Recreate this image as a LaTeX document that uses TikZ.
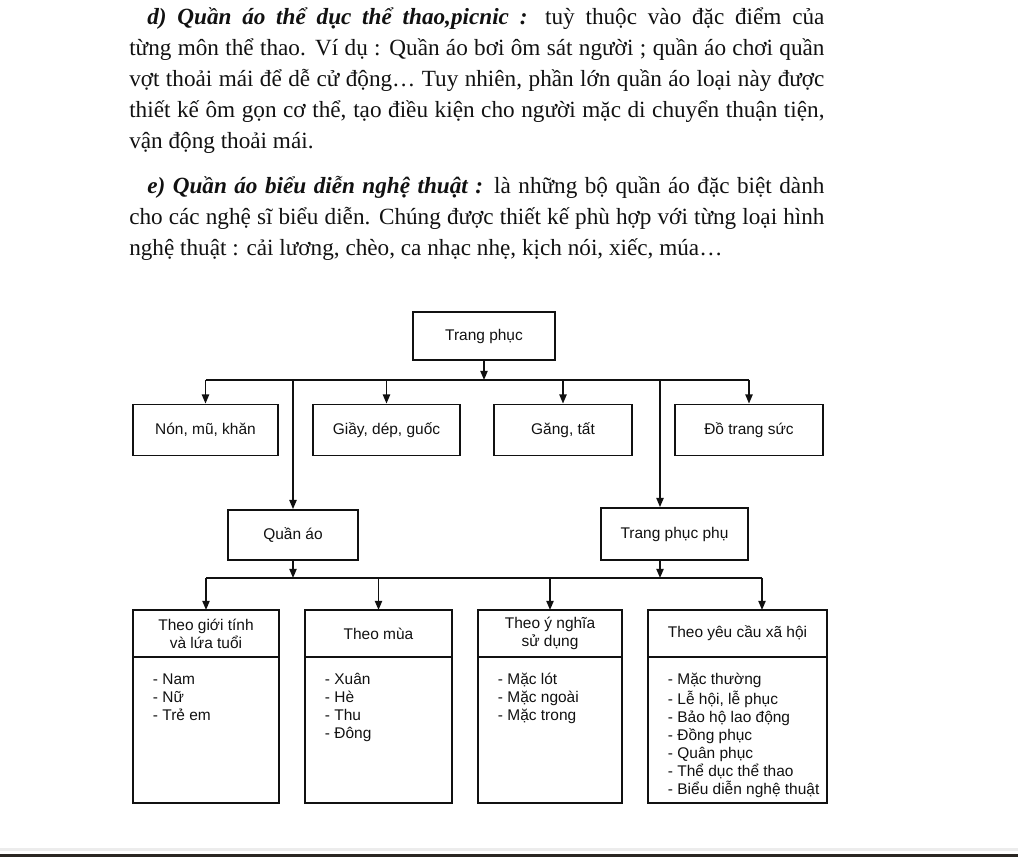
\documentclass[tikz,border=0pt]{standalone}
\usepackage{fontspec}
\setmainfont{Liberation Serif}
\newfontfamily\diagsans{Liberation Sans}
\usepackage{tikz}
\usetikzlibrary{arrows.meta, positioning}
\definecolor{scanink}{HTML}{111111}
\definecolor{scanedge}{HTML}{2A2622}
\definecolor{scangray}{HTML}{ECECEC}
\tikzset{
  para/.style={anchor=north west, inner sep=0pt, text width=17.375cm, align=justify,
               font=\fontsize{16.5}{22}\selectfont, text=scanink},
  catbox/.style={draw=scanink, line width=1.25pt, minimum height=1.275cm, align=center,
                 text=scanink, font=\diagsans\fontsize{11}{12.8}\selectfont},
  headbox/.style={catbox, anchor=north, outer sep=0pt, minimum height=1.175cm},
  listbox/.style={draw=scanink, line width=1.25pt, outer sep=0pt, inner xsep=0pt,
                  inner ysep=0.36cm, text=scanink,
                  font=\diagsans\fontsize{11}{12.8}\selectfont},
  arrow/.style={-{Triangle[length=2.3mm,width=1.8mm]}, line width=1.2pt, draw=scanink},
  bar/.style={line width=1.2pt, draw=scanink}
}
\newcommand{\itemlist}[2]{\parbox[t][2.93cm][t]{#1}{\raggedright\leftskip=0.5cm\strut#2}}

\begin{document}
\begin{tikzpicture}[x=0.025cm, y=-0.025cm]
  \useasboundingbox (0,0) rectangle (1018,857);

  % the two paragraphs above the chart
  \node[para] (pard) at (129,7.5) {\hspace*{0.45cm}\textbf{\textit{d) Quần áo thể dục thể thao,picnic :}}
    tuỳ thuộc vào đặc điểm của\linebreak
    từng môn thể thao. Ví dụ : Quần áo bơi ôm sát người ; quần áo chơi quần\linebreak
    vợt thoải mái để dễ cử động… Tuy nhiên, phần lớn quần áo loại này được\linebreak
    thiết kế ôm gọn cơ thể, tạo điều kiện cho người mặc di chuyển thuận tiện,\linebreak
    vận động thoải mái.};
  \node[para] (pare) at (129,176) {\hspace*{0.45cm}\textbf{\textit{e) Quần áo biểu diễn nghệ thuật :}}
    là những bộ quần áo đặc biệt dành\linebreak
    cho các nghệ sĩ biểu diễn. Chúng được thiết kế phù hợp với từng loại hình\linebreak
    nghệ thuật : cải lương, chèo, ca nhạc nhẹ, kịch nói, xiếc, múa…};

  % chart
  \node[catbox, minimum width=3.55cm, minimum height=1.2cm] (root) at (484,336) {Trang phục};

  \node[catbox, minimum width=3.625cm] (non) at (205.5,430) {Nón, mũ, khăn};
  \node[catbox, minimum width=3.675cm] (giay) at (386.5,430) {Giầy, dép, guốc};
  \node[catbox, minimum width=3.45cm] (gang) at (563,430) {Găng, tất};
  \node[catbox, minimum width=3.7cm] (do) at (749,430) {Đồ trang sức};

  \node[catbox, minimum width=3.25cm, minimum height=1.25cm] (quanao) at (293,535) {Quần áo};
  \node[catbox, minimum width=3.675cm, minimum height=1.3cm] (phu) at (674.5,534) {Trang phục phụ};

  \node[headbox, minimum width=3.65cm] (gioi) at (206,610) {Theo giới tính\\và lứa tuổi};
  \node[listbox, below=0pt of gioi] (gioil) {\itemlist{3.65cm}{- Nam\\- Nữ\\- Trẻ em}};
  \node[headbox, minimum width=3.675cm] (mua) at (378.5,610) {Theo mùa};
  \node[listbox, below=0pt of mua] (mual) {\itemlist{3.675cm}{- Xuân\\- Hè\\- Thu\\- Đông}};
  \node[headbox, minimum width=3.6cm] (nghia) at (550,610) {Theo ý nghĩa\\sử dụng};
  \node[listbox, below=0pt of nghia] (nghial) {\itemlist{3.6cm}{- Mặc lót\\- Mặc ngoài\\- Mặc trong}};
  \node[headbox, minimum width=4.475cm] (xahoi) at (737.5,610) {Theo yêu cầu xã hội};
  \node[listbox, below=0pt of xahoi] (xahoil) {\itemlist{4.475cm}{- Mặc thường\\- Lễ hội, lễ phục\\- Bảo hộ lao động\\- Đồng phục\\- Quân phục\\- Thể dục thể thao\\- Biểu diễn nghệ thuật}};

  \coordinate (tb) at (484,380);
  \coordinate (pj) at (660,380);
  \coordinate (lb) at (484,578);
  \coordinate (q4) at (762,578);

  \draw[arrow] (root) -- (tb);
  \draw[bar] (non.north |- tb) -- (do.north |- tb);
  \foreach \n in {non, giay, gang, do, quanao}
    \draw[arrow] (\n.north |- tb) -- (\n.north);
  \draw[arrow] (pj) -- (pj |- phu.north);

  \draw[arrow] (quanao) -- (quanao.south |- lb);
  \draw[arrow] (pj |- phu.south) -- (pj |- lb);
  \draw[bar] (gioi.north |- lb) -- (q4);
  \foreach \n in {gioi, mua, nghia}
    \draw[arrow] (\n.north |- lb) -- (\n.north);
  \draw[arrow] (q4) -- (q4 |- xahoi.north);

  % edge of the scanned page
  \fill[scangray] (0,848) rectangle (1018,851);
  \fill[scanedge] (0,854) rectangle (1018,857);
\end{tikzpicture}
\end{document}
